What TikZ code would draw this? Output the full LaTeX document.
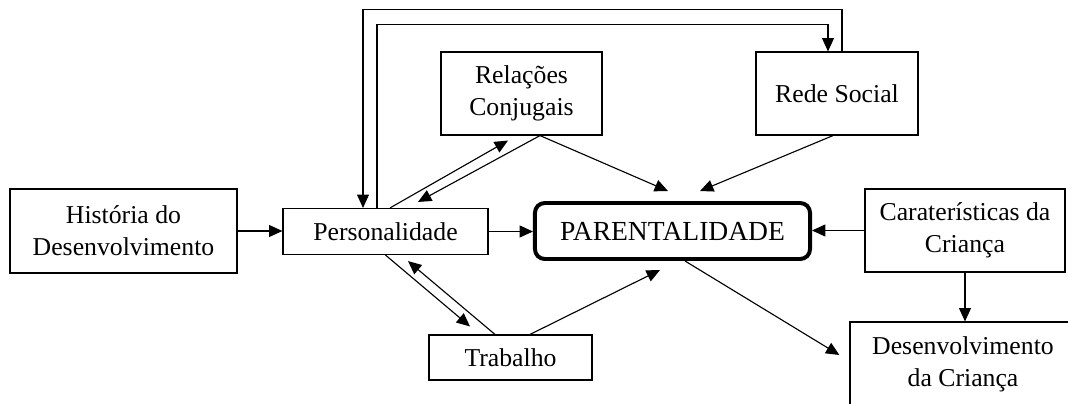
\documentclass[tikz,border=0pt]{standalone}
\usepackage{fontspec}
\setmainfont{Liberation Serif}
\usetikzlibrary{arrows.meta,calc}

\begin{document}
\begin{tikzpicture}[x=0.025cm,y=-0.025cm,
        caixa/.style={draw,line width=0.8pt,inner sep=0pt,align=center,
            font=\fontsize{18.3pt}{22.8pt}\selectfont},
        seta/.style={line width=0.8pt,-{Triangle[length=9.5pt,width=8.5pt]}}]
    \useasboundingbox (0,0) rectangle (1068,403);
    \node[caixa,minimum width=5.675cm,minimum height=2.1cm] (hist) at (123.5,231) {História do\\Desenvolvimento};
    \node[caixa,minimum width=5.125cm,minimum height=1.15cm] (pers) at (385.5,231.5) {Personalidade};
    \node[caixa,line width=2.8pt,rounded corners=7pt,minimum width=6.875cm,minimum height=1.4cm,
        font=\fontsize{19.6pt}{23pt}\selectfont] (paren) at (672.5,231) {PARENTALIDADE};
    \node[caixa,minimum width=4.025cm,minimum height=2.075cm] (rel) at (521.5,93.5) {Relações\\Conjugais};
    \node[caixa,minimum width=4.05cm,minimum height=2.075cm] (rede) at (837,93.5) {Rede Social};
    \node[caixa,minimum width=5cm,minimum height=2.075cm] (car) at (965,230.5) {Caraterísticas da\\Criança};
    \node[caixa,minimum width=5.65cm,minimum height=2.1cm] (desenv) at (963,364) {Desenvolvimento\\da Criança};
    \node[caixa,minimum width=4.075cm,minimum height=1.125cm] (trab) at (510.5,357.5) {Trabalho};
    \draw[seta] (hist.east) -- (hist.east -| pers.west);
    \draw[seta] (pers.east) -- (pers.east -| paren.west);
    \draw[seta] (car.west) -- (car.west -| paren.east);
    \draw[seta] (car.south) -- (car.south |- desenv.north);
    \draw[seta] ($(pers.north)+(-8.5,0)$) -- ++(0,-183) -| ($(rede.north)+(-9,0)$);
    \draw[seta] ($(rede.north)+(5,0)$) -- ++(0,-42) -| ($(pers.north)+(-22.5,0)$);
    \draw[seta] ($(pers.north)+(4.5,0)$) -- ($(rel.south)+(-13.5,5)$);
    \draw[seta] ($(rel.south)+(18.5,0)$) -- ($(pers.north)+(32.5,-6)$);
    \draw[seta] ($(rel.south)+(18.5,0)$) -- ($(paren.north)+(-4.5,-10)$);
    \draw[seta] ($(rede.south)+(-4,0)$) -- ($(paren.north)+(27.5,-10)$);
    \draw[seta] (pers.south) -- ($(trab.north)+(-40.5,-8)$);
    \draw[seta] ($(trab.north)+(-15.5,0)$) -- ($(pers.south)+(22.5,6)$);
    \draw[seta] ($(trab.north)+(19.5,0)$) -- ($(paren.south)+(-12.5,9)$);
    \draw[seta] ($(paren.south)+(12.5,0)$) -- ($(desenv.west)+(-10,-9)$);
\end{tikzpicture}
\end{document}
